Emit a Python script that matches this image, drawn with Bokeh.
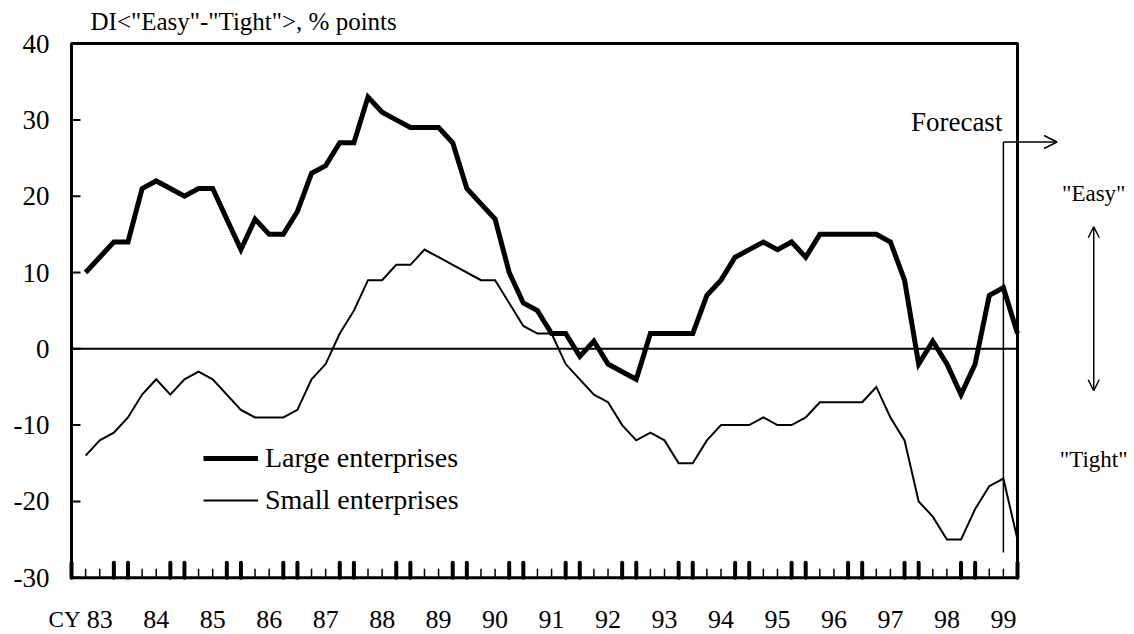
import math
from bokeh.plotting import figure
from bokeh.models import (Range1d, Label, Arrow, OpenHead, BoxAnnotation,
                          Legend, LegendItem, ColumnDataSource)
from bokeh.embed import file_html
from bokeh.resources import INLINE

# ---- data (quarterly, CY1983 Q1 .. CY1999 Q3; last point is the forecast) ----
years = ["83", "84", "85", "86", "87", "88", "89", "90", "91",
         "92", "93", "94", "95", "96", "97", "98", "99"]
large = [10, 12, 14, 14, 21, 22, 21, 20, 21, 21, 17, 13, 17, 15, 15, 18, 23, 24, 27, 27,
         33, 31, 30, 29, 29, 29, 27, 21, 19, 17, 10, 6, 5, 2, 2, -1, 1, -2, -3, -4,
         2, 2, 2, 2, 7, 9, 12, 13, 14, 13, 14, 12, 15, 15, 15, 15, 15, 14, 9, -2,
         1, -2, -6, -2, 7, 8, 2]
small = [-14, -12, -11, -9, -6, -4, -6, -4, -3, -4, -6, -8, -9, -9, -9, -8, -4, -2, 2, 5,
         9, 9, 11, 11, 13, 12, 11, 10, 9, 9, 6, 3, 2, 2, -2, -4, -6, -7, -10, -12,
         -11, -12, -15, -15, -12, -10, -10, -10, -9, -10, -10, -9, -7, -7, -7, -7, -5, -9, -12, -20,
         -22, -25, -25, -21, -18, -17, -25]
y_ticks = [-30, -20, -10, 0, 10, 20, 30, 40]
y_tick_labels = ["-30", "-20", "-10", "0", "10", "20", "30", "40"]

FONT = "Liberation Serif"
n = len(large)
quarter = list(range(1, n + 1))
src = ColumnDataSource(dict(q=quarter, large=large, small=small))
y_min, y_max = y_ticks[0], y_ticks[-1]

# ---- layout: the frame covers the whole canvas so that texts and arrows
# around the chart box are not clipped; the box itself is drawn inside ----
W, H = 1134, 634
box_left, box_top, box_w, box_h = 71.0, 43.1, 946.0, 534.1   # chart box in px
px_x = box_w / n
px_y = box_h / (y_max - y_min)
x_start = -box_left / px_x
x_end = x_start + W / px_x
y_top = y_max + box_top / px_y
y_bot = y_top - H / px_y

p = figure(width=W, height=H, output_backend="svg", toolbar_location=None,
           x_range=Range1d(x_start, x_end), y_range=Range1d(y_bot, y_top),
           x_axis_location=None, y_axis_location=None,
           min_border_left=0, min_border_right=0, min_border_top=0, min_border_bottom=0)
p.grid.visible = False
p.outline_line_color = None
p.background_fill_color = "white"
p.border_fill_color = "white"

# chart box
p.add_layout(BoxAnnotation(left=0, right=n, bottom=y_min, top=y_max,
                           fill_alpha=0, line_color="black", line_width=3, line_alpha=1))

# y ticks (inwards) and labels
p.ray(x=[0] * len(y_ticks), y=y_ticks, length=9, length_units="screen", angle=0,
      line_width=2, line_color="black")
p.text(x=[0] * len(y_ticks), y=y_ticks, text=y_tick_labels, x_offset=-22,
       text_align="right", text_baseline="middle",
       text_font={"value": FONT}, text_font_size="27px", text_color="black")

# quarter ticks on the bottom edge (pointing inwards)
all_q = list(range(0, n + 1))
thick = [q for q in all_q if q % 4 in (0, 3)]
thin = [q for q in all_q if q % 4 in (1, 2)]
p.ray(x=thick, y=[y_min] * len(thick), length=15, length_units="screen", angle=math.pi / 2,
      line_width=4, line_color="black", line_cap="round")
p.ray(x=thin, y=[y_min] * len(thin), length=9, length_units="screen", angle=math.pi / 2,
      line_width=1.5, line_color="black")

# year labels
label_pos = [2 + 4 * i for i in range(len(years))]
p.text(x=label_pos, y=[y_min] * len(years), text=years, y_offset=42,
       text_align="center", text_baseline="alphabetic",
       text_font={"value": FONT}, text_font_size="26px", text_color="black")
p.text(x=[0], y=[y_min], text=["CY"], x_offset=9, y_offset=42,
       text_align="right", text_baseline="alphabetic",
       text_font={"value": FONT}, text_font_size="23px", text_color="black")

# zero line
p.segment(x0=[0], y0=[0], x1=[n], y1=[0], line_color="black", line_width=2)

# series
r1 = p.line("q", "large", source=src, line_width=5, line_color="black", line_join="miter")
r2 = p.line("q", "small", source=src, line_width=2, line_color="black", line_join="miter")

legend = Legend(items=[LegendItem(label="Large enterprises", renderers=[r1]),
                       LegendItem(label="Small enterprises", renderers=[r2])],
                location=(203, 113), orientation="vertical", glyph_width=55, glyph_height=42,
                label_height=42, spacing=0, padding=0, margin=0, label_standoff=7,
                border_line_color=None, background_fill_alpha=0,
                label_text_font=FONT, label_text_font_size="28px", label_text_color="black")
p.add_layout(legend)

# title
p.add_layout(Label(x=0, y=y_max, x_offset=19, y_offset=22,
                   text='DI<"Easy"-"Tight">,  % points', text_baseline="alphabetic",
                   text_font=FONT, text_font_size="25px", text_color="black"))

# forecast marker
fc = quarter[-2]
arrow_y = 27.1
p.add_layout(Arrow(end=None, x_start=fc, y_start=-26.7, x_end=fc, y_end=arrow_y,
                   line_width=1.5, line_color="black"))
p.add_layout(Arrow(end=OpenHead(size=13, line_width=1.5, line_color="black"),
                   x_start=fc, y_start=arrow_y, x_end=69.8, y_end=arrow_y,
                   line_width=1.5, line_color="black"))
p.add_layout(Label(x=fc, y=arrow_y, x_offset=-1, y_offset=20, text="Forecast",
                   text_align="right", text_baseline="alphabetic",
                   text_font=FONT, text_font_size="27px", text_color="black"))

# Easy / Tight guide
gx = 72.4
p.add_layout(Arrow(start=OpenHead(size=11, line_width=1.5, line_color="black"),
                   end=OpenHead(size=11, line_width=1.5, line_color="black"),
                   x_start=gx, y_start=-5.5, x_end=gx, y_end=16.0,
                   line_width=1.5, line_color="black"))
p.add_layout(Label(x=gx, y=20.4, text='"Easy"', text_align="center", text_baseline="alphabetic",
                   text_font=FONT, text_font_size="23px", text_color="black"))
p.add_layout(Label(x=gx, y=-14.5, text='"Tight"', text_align="center", text_baseline="alphabetic",
                   text_font=FONT, text_font_size="23px", text_color="black"))

open("out.html", "w").write(file_html(p, INLINE))
